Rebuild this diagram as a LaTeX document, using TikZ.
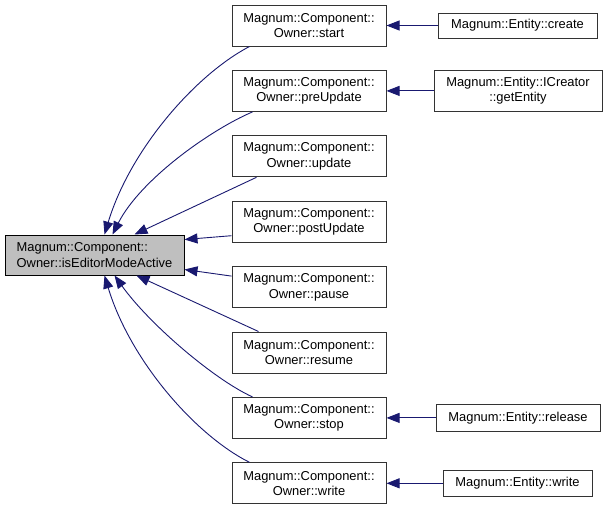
\documentclass[tikz,border=0pt]{standalone}
\usepackage{fontspec}
\setmainfont{Liberation Sans}
\usetikzlibrary{arrows.meta}
\definecolor{edgeblue}{HTML}{191970}
\definecolor{boxgray}{HTML}{BFBFBF}
\definecolor{boxline}{HTML}{333333}
\tikzset{
  base/.style={draw=boxline, line width=1pt, inner sep=0pt, align=center,
    font=\fontsize{12.9}{15.5}\selectfont},
  midbox/.style={base, fill=white, minimum width=154pt, minimum height=41pt},
  mainbox/.style={base, align=left, draw=black, fill=boxgray, minimum width=179pt, minimum height=40pt},
  edge/.style={draw=edgeblue, line width=0.9pt, -{Triangle[length=13pt,width=10pt]}},
}
\begin{document}
\begin{tikzpicture}[x=1pt,y=-1pt]
\useasboundingbox (0,0) rectangle (607,509);
\node[mainbox] (main) at (94.5,255) {Magnum::Component::\\Owner::isEditorModeActive};
\node[midbox] (start) at (309,25.5) {Magnum::Component::\\Owner::start};
\node[midbox] (pre) at (309,90.9) {Magnum::Component::\\Owner::preUpdate};
\node[midbox] (upd) at (309,156.3) {Magnum::Component::\\Owner::update};
\node[midbox] (post) at (309,221.7) {Magnum::Component::\\Owner::postUpdate};
\node[midbox] (pause) at (309,287.1) {Magnum::Component::\\Owner::pause};
\node[midbox] (resume) at (309,352.5) {Magnum::Component::\\Owner::resume};
\node[midbox] (stop) at (309,417.9) {Magnum::Component::\\Owner::stop};
\node[midbox] (write) at (309,483.3) {Magnum::Component::\\Owner::write};
\node[base, fill=white, minimum width=159pt, minimum height=25pt] (create) at (517.5,25.5) {Magnum::Entity::create};
\node[base, fill=white, minimum width=168pt, minimum height=41pt] (getent) at (518,90.9) {Magnum::Entity::ICreator\\::getEntity};
\node[base, fill=white, minimum width=164pt, minimum height=27pt] (release) at (518,417.9) {Magnum::Entity::release};
\node[base, fill=white, minimum width=149pt, minimum height=26pt] (ewrite) at (517.5,483.3) {Magnum::Entity::write};
% right column edges
\draw[edge] (create.west) -- (start.east);
\draw[edge] (getent.west) -- (pre.east);
\draw[edge] (release.west) -- (stop.east);
\draw[edge] (ewrite.west) -- (write.east);
% edges to main
\draw[edge] ([xshift=18pt]start.south west) .. controls (195,75) and (130,150) .. ([xshift=100pt]main.north west);
\draw[edge] ([xshift=21pt]pre.south west) .. controls (210,130) and (140,180) .. ([xshift=108pt]main.north west);
\draw[edge] ([xshift=25pt]upd.south west) -- ([xshift=130pt]main.north west);
\draw[edge] ([yshift=7pt]post.south west) -- ([yshift=-5pt]main.north east);
\draw[edge] ([yshift=-10pt]pause.north west) -- ([yshift=6pt]main.south east);
\draw[edge] ([xshift=27pt]resume.north west) -- ([xshift=132pt]main.south west);
\draw[edge] ([xshift=21pt]stop.north west) .. controls (215,380) and (150,325) .. ([xshift=110pt]main.south west);
\draw[edge] ([xshift=18pt]write.north west) .. controls (195,435) and (130,360) .. ([xshift=100pt]main.south west);
\end{tikzpicture}
\end{document}
